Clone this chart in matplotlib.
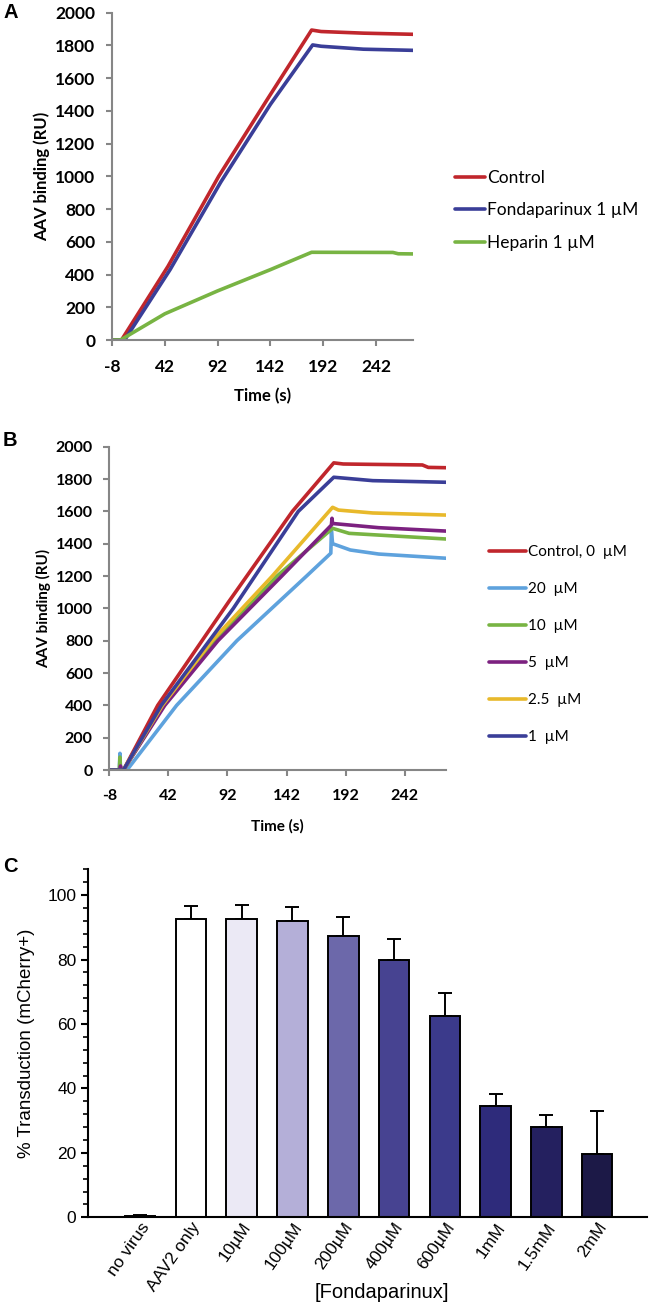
import matplotlib
matplotlib.use("Agg")
import matplotlib.pyplot as plt
from matplotlib.ticker import MultipleLocator, FixedLocator
from matplotlib.transforms import ScaledTranslation

plt.rcParams["axes.unicode_minus"] = False

# ---------------- Data ----------------
# Panel A (time s, response RU)
a_ctrl_t = [-8, 1, 45, 93, 140, 181, 190, 230, 277]
a_ctrl_v = [0, 0, 450, 1000, 1480, 1894, 1885, 1875, 1868]
a_fonda_t = [-8, 4, 47, 95, 142, 182, 190, 230, 277]
a_fonda_v = [0, 0, 430, 965, 1440, 1803, 1795, 1777, 1770]
a_hep_t = [-8, 0, 42, 92, 142, 181, 258, 263, 277]
a_hep_v = [0, 0, 160, 300, 430, 536, 535, 527, 526]
a_labels = ["Control", "Fondaparinux 1 \u00b5M", "Heparin 1 \u00b5M"]

# Panel B
b_ctrl_t = [-8, 4, 33, 93, 147, 182, 190, 211, 257, 262, 277]
b_ctrl_v = [0, 0, 400, 1040, 1600, 1900, 1893, 1891, 1887, 1872, 1870]
b_20_t = [-8, 0.5, 1, 1.5, 7, 49, 100, 159, 179.5, 180, 181, 196, 220, 277]
b_20_v = [0, 0, 103, 0, 0, 400, 800, 1200, 1341, 1480, 1400, 1361, 1336, 1310]
b_10_t = [-8, 0.5, 1, 1.5, 4, 38, 82, 134, 181, 195, 277]
b_10_v = [0, 0, 80, 0, 0, 400, 800, 1200, 1495, 1464, 1429]
b_5_t = [-8, 1, 1.5, 2, 4, 39, 84, 138, 180, 180.5, 181, 220, 277]
b_5_v = [0, 0, 25, 0, 0, 400, 800, 1200, 1515, 1557, 1525, 1499, 1478]
b_25_t = [-8, 4, 37, 79, 130, 181, 186, 215, 277]
b_25_v = [0, 0, 400, 800, 1200, 1625, 1608, 1590, 1577]
b_1_t = [-8, 4, 36, 97, 152, 182, 190, 215, 277]
b_1_v = [0, 0, 400, 1000, 1600, 1811, 1806, 1790, 1780]
b_labels = ["Control, 0  \u00b5M", "20  \u00b5M", "10  \u00b5M", "5  \u00b5M", "2.5  \u00b5M", "1  \u00b5M"]

time_ticks = [-8, 42, 92, 142, 192, 242]

# Panel C
c_categories = ["no virus", "AAV2 only", "10\u00b5M", "100\u00b5M", "200\u00b5M",
                "400\u00b5M", "600\u00b5M", "1mM", "1.5mM", "2mM"]
c_values = [0.5, 92.5, 92.5, 92.1, 87.3, 79.8, 62.6, 34.6, 28.1, 19.8]
c_errors = [0.3, 4.1, 4.4, 4.1, 5.9, 6.6, 7.1, 3.8, 3.5, 13.2]
c_colors = ["#ffffff", "#ffffff", "#ebe9f5", "#b4afd8", "#6c68aa", "#474391",
            "#3b3a8b", "#2e2b7b", "#24205f", "#1c1947"]

# ---------------- Style ----------------
RED = "#c0262c"
BLUE = "#3a3e98"
GREEN = "#78b443"
LBLUE = "#5ea2dd"
PURPLE = "#7c2180"
YELLOW = "#e8b92b"
GRAY = "#868686"

W, H = 649, 1304
fig = plt.figure(figsize=(W / 100, H / 100), dpi=100)


def px_axes(left, top, right, bottom):
    return fig.add_axes([left / W, 1 - bottom / H, (right - left) / W, (bottom - top) / H])


def style_spr(ax, tfs, lfs, xlab_y, ylab_x):
    ax.set_xlim(-8, 277)
    ax.set_ylim(0, 2000)
    ax.yaxis.set_major_locator(MultipleLocator(200))
    ax.xaxis.set_major_locator(FixedLocator(time_ticks))
    for s in ["top", "right"]:
        ax.spines[s].set_visible(False)
    for s in ["left", "bottom"]:
        ax.spines[s].set_color(GRAY)
        ax.spines[s].set_linewidth(1.5)
    ax.tick_params(axis="both", colors=GRAY, width=1.5, length=4.5, direction="out",
                   labelcolor="black", labelsize=tfs)
    ax.tick_params(axis="x", pad=9)
    ax.tick_params(axis="y", pad=7.5)
    for lab in ax.get_xticklabels() + ax.get_yticklabels():
        lab.set_fontfamily("Lato")
        lab.set_fontweight("bold")
    ax.set_xlabel("Time (s)", fontfamily="Lato", fontweight="bold", fontsize=lfs)
    ax.set_ylabel("AAV binding (RU)", fontfamily="Lato", fontweight="bold", fontsize=lfs)
    ax.xaxis.set_label_coords(0.5, xlab_y)
    ax.xaxis.label.set_verticalalignment("center")
    ax.yaxis.set_label_coords(ylab_x, 0.5)
    ax.yaxis.label.set_verticalalignment("center")


# ---------------- Panel A ----------------
axA = px_axes(112, 12.7, 413, 340)
lw = 2.6
axA.plot(a_ctrl_t, a_ctrl_v, color=RED, lw=lw, label=a_labels[0], solid_capstyle="round")
axA.plot(a_fonda_t, a_fonda_v, color=BLUE, lw=lw, label=a_labels[1], solid_capstyle="round")
axA.plot(a_hep_t, a_hep_v, color=GREEN, lw=lw, label=a_labels[2], solid_capstyle="round")
style_spr(axA, 12.5, 12, (340 - 395.7) / 327.3, (42 - 112) / 301)
axA.legend(loc="upper left", bbox_to_anchor=(1.117, 0.541), frameon=False,
           prop={"family": "Lato", "size": 12.5}, handlelength=1.7,
           handletextpad=0.15, labelspacing=0.95, borderaxespad=0)
fig.text(3 / W, 1 - 13 / H, "A", fontfamily="Liberation Sans", fontweight="bold", fontsize=14.5,
         va="center", ha="left")

# ---------------- Panel B ----------------
axB = px_axes(109.3, 446.7, 446, 770)
series_b = [
    (b_ctrl_t, b_ctrl_v, RED),
    (b_20_t, b_20_v, LBLUE),
    (b_10_t, b_10_v, GREEN),
    (b_5_t, b_5_v, PURPLE),
    (b_25_t, b_25_v, YELLOW),
    (b_1_t, b_1_v, BLUE),
]
for (t, v, c), lab in zip(series_b, b_labels):
    axB.plot(t, v, color=c, lw=lw, label=lab, solid_capstyle="round")
style_spr(axB, 11.5, 11, (770 - 826.7) / 323.3, (44 - 109.3) / 336.7)
axB.legend(loc="upper left", bbox_to_anchor=(1.11, 0.714), frameon=False,
           prop={"family": "Lato", "size": 11}, handlelength=2.4,
           handletextpad=0.15, labelspacing=1.5, borderaxespad=0)
fig.text(3 / W, 1 - 441 / H, "B", fontfamily="Liberation Sans", fontweight="bold", fontsize=14.5,
         va="center", ha="left")

# ---------------- Panel C ----------------
axC = px_axes(88.3, 869.3, 646.5, 1217.3)
x = list(range(len(c_categories)))
axC.bar(x, c_values, width=0.6, color=c_colors, edgecolor="black", linewidth=1.4, zorder=2)
axC.errorbar(x, c_values, yerr=[[0] * len(c_errors), c_errors], fmt="none",
             ecolor="black", elinewidth=1.4, capsize=5, capthick=1.4, zorder=1)
axC.set_xlim(-1.02, 9.97)
axC.set_ylim(0, 108)
axC.yaxis.set_major_locator(MultipleLocator(20))
axC.yaxis.set_minor_locator(MultipleLocator(4))
axC.set_xticks(x)
axC.set_xticklabels(c_categories, rotation=55, ha="right", va="top",
                    rotation_mode="anchor", fontfamily="Liberation Sans", fontsize=12.5)
shift = ScaledTranslation(9 / 100, 0, fig.dpi_scale_trans)
for lab in axC.get_xticklabels():
    lab.set_transform(lab.get_transform() + shift)
for s in ["top", "right"]:
    axC.spines[s].set_visible(False)
for s in ["left", "bottom"]:
    axC.spines[s].set_linewidth(1.5)
axC.tick_params(axis="x", length=0, pad=2)
axC.tick_params(axis="y", which="major", length=5, width=1.5, labelsize=12.5, pad=3.5)
axC.tick_params(axis="y", which="minor", length=3.5, width=1.2)
for lab in axC.get_yticklabels():
    lab.set_fontfamily("Liberation Sans")
axC.set_ylabel("% Transduction (mCherry+)", fontfamily="Liberation Sans", fontsize=13.5)
axC.yaxis.set_label_coords((27 - 88.3) / 558.2, 0.5)
axC.yaxis.label.set_verticalalignment("center")
axC.set_xlabel("[Fondaparinux]", fontfamily="Liberation Sans", fontsize=14.5)
axC.xaxis.set_label_coords((382 - 88.3) / 558.2, (1217.3 - 1292) / 348)
axC.xaxis.label.set_verticalalignment("center")
fig.text(3 / W, 1 - 866 / H, "C", fontfamily="Liberation Sans", fontweight="bold", fontsize=14.5,
         va="center", ha="left")

fig.savefig("out.png", dpi=100)
